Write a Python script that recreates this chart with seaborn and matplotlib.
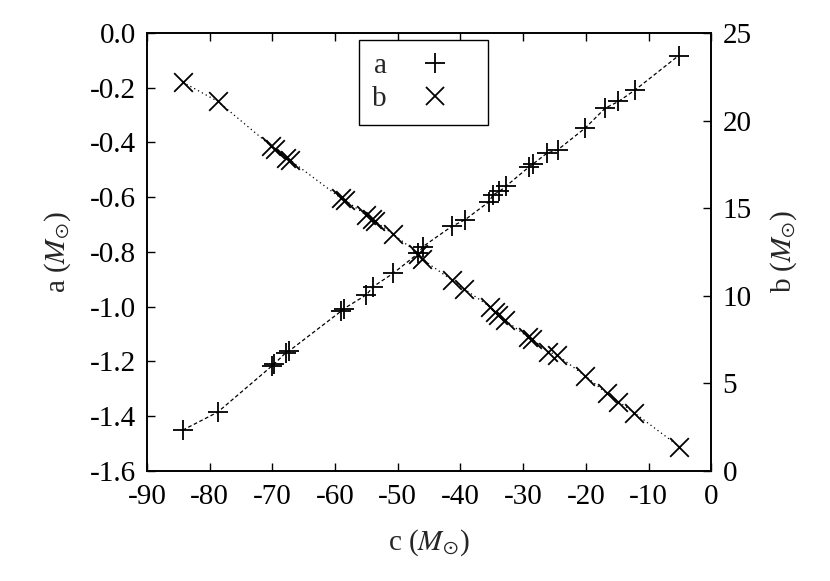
import matplotlib
matplotlib.use("Agg")
import matplotlib.pyplot as plt
import seaborn as sns
import pandas as pd
from matplotlib.lines import Line2D

# series a (+)
c_a = [-84.3, -78.7, -70.0, -69.7, -67.9, -67.3, -59.1, -58.6, -55.0, -53.9,
       -50.7, -46.7, -46.0, -41.4, -39.3, -35.4, -34.8, -33.8, -32.7, -29.1,
       -28.4, -26.2, -24.5, -20.1, -16.9, -14.8, -12.1, -5.2]
a_vals = [-1.452, -1.386, -1.216, -1.210, -1.170, -1.162, -1.018, -1.008, -0.957, -0.927,
          -0.878, -0.805, -0.781, -0.707, -0.683, -0.616, -0.591, -0.579, -0.559, -0.490,
          -0.478, -0.439, -0.427, -0.347, -0.274, -0.250, -0.207, -0.082]

# series b (x)
c_b = [-84.3, -78.7, -70.2, -69.6, -67.8, -67.2, -59.0, -58.4, -55.0, -54.1,
       -53.6, -50.7, -46.7, -46.2, -41.4, -39.5, -35.3, -34.5, -34.0, -32.9,
       -29.2, -28.6, -26.0, -24.6, -20.1, -16.7, -14.8, -12.3, -5.1]
b_vals = [22.2, 21.1, 18.55, 18.4, 17.85, 17.75, 15.55, 15.45, 14.6, 14.35,
          14.25, 13.5, 12.4, 12.1, 10.9, 10.4, 9.37, 9.09, 8.9, 8.6,
          7.62, 7.52, 6.8, 6.6, 5.41, 4.42, 3.94, 3.31, 1.37]

df_a = pd.DataFrame({"c": c_a, "a": a_vals})
df_b = pd.DataFrame({"c": c_b, "b": b_vals})

sns.set_theme(style="ticks")
plt.rcParams["font.family"] = ["Liberation Serif", "DejaVu Serif"]
plt.rcParams["mathtext.fontset"] = "stix"

fs = 21
fig = plt.figure(figsize=(8.3, 5.81), dpi=100)
ax = fig.add_axes([0.177, 0.19, 0.68, 0.753])
ax2 = ax.twinx()

# lines
sns.lineplot(data=df_a, x="c", y="a", ax=ax, estimator=None, color="black",
             linewidth=0.9, linestyle=(0, (3, 2)))
sns.lineplot(data=df_b, x="c", y="b", ax=ax2, estimator=None, color="black",
             linewidth=0.9, linestyle=(0, (1, 2.5)))

# markers
sns.scatterplot(data=df_a, x="c", y="a", ax=ax, marker="+", color="black",
                s=210, linewidth=1.3, zorder=3)
sns.scatterplot(data=df_b, x="c", y="b", ax=ax2, marker="x", color="black",
                s=180, linewidth=1.3, zorder=3)

ax.set_xlim(-90, 0)
ax.set_ylim(-1.6, 0.0)
ax2.set_ylim(0, 25)

ax.set_xticks(range(-90, 1, 10))
ax.set_yticks([-1.6, -1.4, -1.2, -1.0, -0.8, -0.6, -0.4, -0.2, 0.0])
ax.set_yticklabels(["-1.6", "-1.4", "-1.2", "-1.0", "-0.8", "-0.6", "-0.4", "-0.2", "0.0"])
ax.set_xticklabels([str(v) for v in range(-90, 1, 10)])
ax2.set_yticks([0, 5, 10, 15, 20, 25])

ax.tick_params(axis="x", direction="in", top=True, length=6, width=1,
               labelsize=fs, pad=10, colors="black")
ax.tick_params(axis="y", direction="in", right=False, length=6, width=1,
               labelsize=fs, pad=8, colors="black")
ax2.tick_params(axis="y", direction="in", length=6, width=1,
                labelsize=fs, pad=8, colors="black")

for a_ in (ax, ax2):
    for sp in a_.spines.values():
        sp.set_visible(True)
        sp.set_linewidth(1.2)
        sp.set_color("black")

ax.set_xlabel(r"c ($M_{\odot}$)", fontsize=fs, labelpad=12)
ax.set_ylabel(r"a ($M_{\odot}$)", fontsize=fs, labelpad=12)
ax2.set_ylabel(r"b ($M_{\odot}$)", fontsize=fs, labelpad=12)

handles = [
    Line2D([], [], marker="+", linestyle="none", color="black", markersize=15, markeredgewidth=1.3),
    Line2D([], [], marker="x", linestyle="none", color="black", markersize=13, markeredgewidth=1.3),
]
leg = ax.legend(handles, ["a", "b"], loc="upper center", bbox_to_anchor=(0.49, 0.985),
                markerfirst=False, fontsize=fs, frameon=True, fancybox=False,
                edgecolor="black", framealpha=1, handlelength=2.74, handletextpad=0.27,
                borderpad=0.45, labelspacing=0.22, borderaxespad=0)
leg.get_frame().set_linewidth(1.0)
leg.set_zorder(5)

fig.savefig("out.png", dpi=100)
